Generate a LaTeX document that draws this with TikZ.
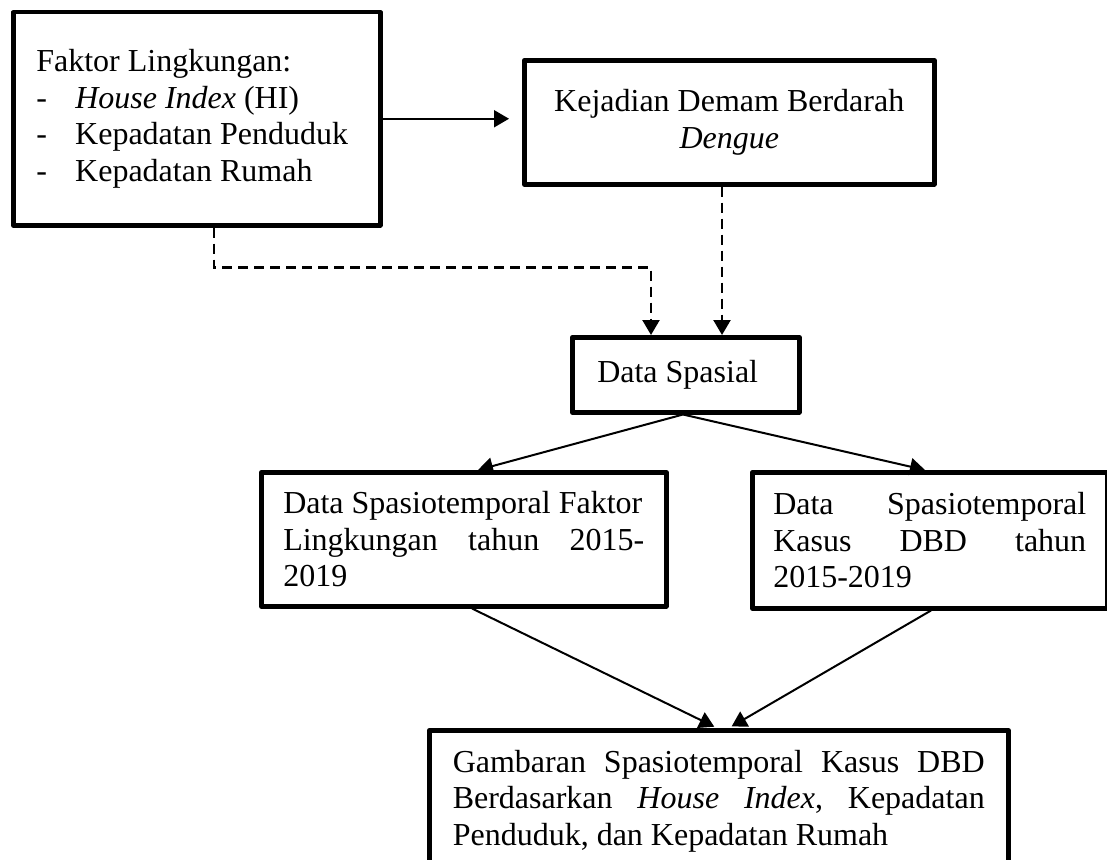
\documentclass[tikz,border=0pt]{standalone}
\usepackage{fontspec}
\setmainfont{Liberation Serif}
\usetikzlibrary{arrows.meta}
\tikzset{
  boxnode/.style={draw, line width=4.5pt, line join=round, inner sep=0pt, anchor=north west,
    font=\fontsize{32}{36.7}\selectfont,
    execute at begin node={\spaceskip=0.25em plus 0.15em minus 0.06em\relax}},
  solidarrow/.style={line width=2pt, -{Triangle[length=15pt,width=17pt]}},
  dasharrow/.style={line width=2.3pt, dash pattern=on 10pt off 6pt, -{Triangle[length=15pt,width=17pt]}},
}
\begin{document}
\begin{tikzpicture}[x=1pt,y=-1pt]
\clip (0,0) rectangle (1107,859);
\fill[white] (0,0) rectangle (1107,859);

\node[boxnode, minimum width=367pt, minimum height=213pt, text width=321pt] (f) at (11,10)
 {Faktor Lingkungan:\\
  \makebox[39pt][l]{-}\textit{House Index} (HI)\\
  \makebox[39pt][l]{-}Kepadatan Penduduk\\
  \makebox[39pt][l]{-}Kepadatan Rumah};

\node[boxnode, minimum width=410pt, minimum height=124pt, text width=380pt] (k) at (522,58)
 {\centering Kejadian Demam Berdarah\\ \textit{Dengue}\par};

\node[boxnode, minimum width=227pt, minimum height=75pt, text width=177pt] (ds) at (570,335)
 {Data Spasial};

\node[boxnode, minimum width=405pt, minimum height=134pt, text width=361pt] (l) at (259,470)
 {\makebox[361pt][l]{Data Spasiotemporal Faktor}\\
  \makebox[361pt][l]{Lingkungan\hfill tahun\hfill 2015-}\\
  2019};

\node[boxnode, minimum width=355pt, minimum height=136pt, text width=313pt] (r) at (750,470)
 {\makebox[313pt][l]{Data\hfill Spasiotemporal}\\
  \makebox[313pt][l]{Kasus\hfill DBD\hfill tahun}\\
  2015-2019};

\node[boxnode, minimum width=579pt, minimum height=142pt, text width=532pt] (g) at (427,728)
 {\makebox[532pt][l]{Gambaran\hfill Spasiotemporal\hfill Kasus\hfill DBD}\\
  \makebox[532pt][l]{Berdasarkan\hfill \textit{House\hfill Index},\hfill Kepadatan}\\
  Penduduk, dan Kepadatan Rumah};

\draw[solidarrow, shorten >=13pt] (f.east) -- (f.east -| k.west);

\draw[dasharrow] ([xshift=203pt]f.south west) -- ++(0,40) -| ([xshift=81pt]ds.north west);
\draw[dasharrow] ([xshift=200pt]k.south west) -- ([xshift=152pt]ds.north west);

\draw[solidarrow] ([xshift=113pt]ds.south west) -- ([xshift=219pt]l.north west);
\draw[solidarrow] ([xshift=113pt]ds.south west) -- ([xshift=175pt]r.north west);

\draw[solidarrow, shorten >=3pt] ([xshift=213pt]l.south west) -- ([xshift=290pt]g.north west);
\draw[solidarrow, shorten >=3pt] ([xshift=181pt]r.south west) -- ([xshift=302pt]g.north west);
\end{tikzpicture}
\end{document}
